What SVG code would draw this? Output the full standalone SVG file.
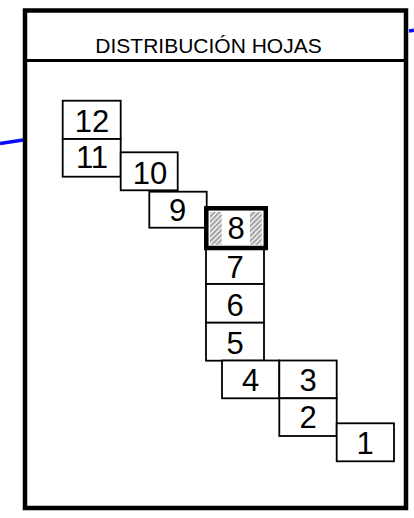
<svg xmlns="http://www.w3.org/2000/svg" width="414" height="518" viewBox="0 0 414 518">
<style>
.box{fill:#fff;stroke:#000;stroke-width:1.8}
.num{font-family:"Liberation Sans",Arial,sans-serif;font-size:31px;fill:#000;text-anchor:middle}
.title{font-family:"Liberation Sans",Arial,sans-serif;font-size:21px;fill:#000;text-anchor:middle}
.blue{stroke:#0a0aff;stroke-width:3.5;fill:none}
</style>
<defs>
<pattern id="hatch" width="3.5" height="3.5" patternUnits="userSpaceOnUse" patternTransform="rotate(45)">
<rect width="3.5" height="3.5" fill="#e8e8e8"/>
<line x1="0.8" y1="0" x2="0.8" y2="3.5" stroke="#8a8a8a" stroke-width="1.3"/>
</pattern>
</defs>
<rect width="414" height="518" fill="#fff"/>
<g id="connectors">
<line class="blue" x1="0" y1="143.5" x2="23" y2="140"/>
<line class="blue" x1="409" y1="31" x2="414" y2="30.2"/>
</g>
<g id="frame">
<rect x="25" y="10.5" width="381" height="497.5" fill="#fff" stroke="#000" stroke-width="4.5"/>
<line x1="25" y1="60.5" x2="406" y2="60.5" stroke="#000" stroke-width="3"/>
<text class="title" x="208.5" y="53">DISTRIBUCIÓN HOJAS</text>
</g>
<g id="hoja12"><rect class="box" x="62.7" y="100.7" width="58" height="38.3"/><text class="num" x="92" y="131.7">12</text></g>
<g id="hoja11"><rect class="box" x="62.7" y="139" width="58" height="37.7"/><text class="num" x="92" y="168.3">11</text></g>
<g id="hoja10"><rect class="box" x="120.7" y="152.3" width="57" height="38"/><text class="num" x="150" y="184">10</text></g>
<g id="hoja9"><rect class="box" x="149.3" y="191.7" width="57.4" height="36"/><text class="num" x="177.5" y="220.7">9</text></g>
<g id="hoja7"><rect class="box" x="206" y="249" width="58" height="35"/><text class="num" x="235" y="278.3">7</text></g>
<g id="hoja6"><rect class="box" x="206" y="284" width="58" height="38.7"/><text class="num" x="235" y="316">6</text></g>
<g id="hoja5"><rect class="box" x="206" y="322.7" width="58" height="38"/><text class="num" x="235" y="354">5</text></g>
<g id="hoja4"><rect class="box" x="222" y="360.5" width="57.3" height="37.8"/><text class="num" x="250.7" y="390.7">4</text></g>
<g id="hoja3"><rect class="box" x="279.3" y="360.5" width="57.4" height="37.8"/><text class="num" x="308" y="390.7">3</text></g>
<g id="hoja2"><rect class="box" x="279.3" y="398.3" width="57.4" height="37.7"/><text class="num" x="308" y="428.3">2</text></g>
<g id="hoja1"><rect class="box" x="336.7" y="423.3" width="57.3" height="38"/><text class="num" x="365" y="454">1</text></g>
<g id="hoja8">
<rect x="206.3" y="208.3" width="59.5" height="39.7" fill="#fff" stroke="#000" stroke-width="4.5"/>
<rect x="210" y="212" width="11.7" height="32.7" fill="url(#hatch)"/>
<rect x="250" y="212" width="11.7" height="32.7" fill="url(#hatch)"/>
<text class="num" x="236" y="239.3">8</text>
</g>
</svg>
